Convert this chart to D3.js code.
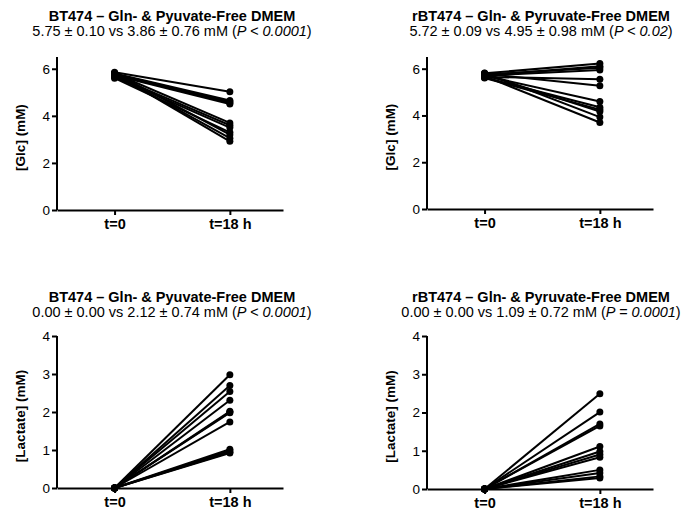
<!DOCTYPE html>
<html>
<head>
  <meta charset="utf-8">
  <title>Glucose and lactate, BT474 vs rBT474</title>
  <script src="https://d3js.org/d3.v7.min.js"></script>
  <style>
    body { margin: 0; background: #fff; }
    svg { font-family: "Liberation Sans", Arial, sans-serif; }
  </style>
</head>
<body>
  <svg id="chart" width="688" height="514"></svg>

  <script>
    // time points on the x axis
    let timeLabels = ["t=0", "t=18 h"];

    // glucose, BT474 (mM)
    let glcBT474_t0  = [5.85, 5.80, 5.78, 5.75, 5.72, 5.80, 5.70, 5.65, 5.60, 5.82, 5.75, 5.78];
    let glcBT474_t18 = [5.02, 4.65, 4.60, 4.55, 4.50, 3.70, 3.60, 3.50, 3.30, 3.20, 3.05, 2.92];

    // glucose, rBT474 (mM)
    let glcR_t0  = [5.80, 5.75, 5.70, 5.72, 5.65, 5.78, 5.70, 5.62, 5.60, 5.75, 5.82, 5.68];
    let glcR_t18 = [6.22, 6.04, 5.94, 6.10, 5.55, 5.27, 4.60, 4.35, 4.25, 4.17, 3.93, 3.70];

    // lactate, BT474 (mM)
    let lacBT474_t0  = [0, 0, 0, 0, 0, 0, 0, 0, 0, 0, 0, 0];
    let lacBT474_t18 = [2.98, 2.70, 2.54, 2.31, 2.02, 1.98, 2.00, 1.74, 1.02, 0.98, 0.94, 0.92];

    // lactate, rBT474 (mM)
    let lacR_t0  = [0, 0, 0, 0, 0, 0, 0, 0, 0, 0, 0, 0];
    let lacR_t18 = [2.49, 2.01, 1.70, 1.65, 1.11, 0.98, 0.90, 0.83, 0.50, 0.42, 0.33, 0.29];

    let glcTicks = [0, 2, 4, 6];
    let lacTicks = [0, 1, 2, 3, 4];

    let panels = [
      { t0: glcBT474_t0, t18: glcBT474_t18, ticks: glcTicks, ymax: 6.5,
        title: "BT474 \u2013 Gln- & Pyuvate-Free DMEM",
        stat: ["5.75 \u00b1 0.10 vs 3.86 \u00b1 0.76 mM (", "P < 0.0001", ")"],
        ylabel: "[Glc] (mM)",
        left: 57, right: 283, top: 57, bottom: 210, titleY: 20.5, cx: 172 },
      { t0: glcR_t0, t18: glcR_t18, ticks: glcTicks, ymax: 6.5,
        title: "rBT474 \u2013 Gln- & Pyruvate-Free DMEM",
        stat: ["5.72 \u00b1 0.09 vs 4.95 \u00b1 0.98 mM (", "P < 0.02", ")"],
        ylabel: "[Glc] (mM)",
        left: 427, right: 653, top: 57, bottom: 209, titleY: 20.5, cx: 541 },
      { t0: lacBT474_t0, t18: lacBT474_t18, ticks: lacTicks, ymax: 4,
        title: "BT474 \u2013 Gln- & Pyuvate-Free DMEM",
        stat: ["0.00 \u00b1 0.00 vs 2.12 \u00b1 0.74 mM (", "P < 0.0001", ")"],
        ylabel: "[Lactate] (mM)",
        left: 57, right: 283, top: 336, bottom: 488, titleY: 301.5, cx: 172 },
      { t0: lacR_t0, t18: lacR_t18, ticks: lacTicks, ymax: 4,
        title: "rBT474 \u2013 Gln- & Pyruvate-Free DMEM",
        stat: ["0.00 \u00b1 0.00 vs 1.09 \u00b1 0.72 mM (", "P = 0.0001", ")"],
        ylabel: "[Lactate] (mM)",
        left: 427, right: 653, top: 336, bottom: 489, titleY: 301.5, cx: 541 }
    ];

    let svg = d3.select("#chart");

    panels.forEach(function(p) {
      let g = svg.append("g");

      // x scale: two time points, placed a bit left of centre like the original
      let x = d3.scalePoint()
                .domain(timeLabels)
                .range([p.left, p.right])
                .padding(0.48)
                .align(0.52);

      let y = d3.scaleLinear()
                .domain([0, p.ymax])
                .range([p.bottom, p.top]);

      // titles
      g.append("text")
       .attr("x", p.cx).attr("y", p.titleY)
       .attr("text-anchor", "middle")
       .style("font-size", "14.5px")
       .style("font-weight", "bold")
       .text(p.title);

      let st = g.append("text")
                .attr("x", p.cx).attr("y", p.titleY + 15.5)
                .attr("text-anchor", "middle")
                .style("font-size", "14.5px");
      st.append("tspan").text(p.stat[0]);
      st.append("tspan").style("font-style", "italic").text(p.stat[1]);
      st.append("tspan").text(p.stat[2]);

      // y axis
      let yAxis = g.append("g")
                   .attr("transform", "translate(" + p.left + ",0)")
                   .call(d3.axisLeft(y).tickValues(p.ticks).tickFormat(d3.format("d"))
                           .tickSize(5).tickSizeOuter(0).tickPadding(2));
      yAxis.select(".domain")
           .attr("d", "M0," + p.bottom + "V" + p.top)
           .attr("stroke-width", 2);
      yAxis.selectAll(".tick line").attr("stroke-width", 2);
      yAxis.selectAll(".tick text")
           .style("font-size", "13.5px")
           .style("font-family", "'Liberation Sans', Arial, sans-serif")
           .attr("fill", "#000");

      // x axis
      let xAxis = g.append("g")
                   .attr("transform", "translate(0," + p.bottom + ")")
                   .call(d3.axisBottom(x).tickSize(5).tickSizeOuter(0).tickPadding(4));
      xAxis.select(".domain").attr("stroke-width", 2);
      xAxis.selectAll(".tick line").attr("stroke-width", 2);
      xAxis.selectAll(".tick text")
           .style("font-size", "14.5px")
           .style("font-weight", "bold")
           .style("font-family", "'Liberation Sans', Arial, sans-serif")
           .attr("fill", "#000");

      // y label
      g.append("text")
       .attr("transform", "translate(" + (p.left - 32) + "," + ((p.top + p.bottom) / 2 + 4) + ") rotate(-90)")
       .attr("text-anchor", "middle")
       .style("font-size", "13.5px")
       .style("font-weight", "bold")
       .text(p.ylabel);

      // paired lines
      let pairs = p.t0.map(function(v, i) { return [v, p.t18[i]]; });

      g.selectAll(".pair")
       .data(pairs)
       .enter()
       .append("line")
       .attr("x1", x(timeLabels[0]))
       .attr("x2", x(timeLabels[1]))
       .attr("y1", function(d) { return y(d[0]); })
       .attr("y2", function(d) { return y(d[1]); })
       .attr("stroke", "#000")
       .attr("stroke-width", 2);

      g.selectAll(".dot0")
       .data(p.t0)
       .enter()
       .append("circle")
       .attr("cx", x(timeLabels[0]))
       .attr("cy", function(d) { return y(d); })
       .attr("r", 3.5)
       .attr("fill", "#000");

      g.selectAll(".dot18")
       .data(p.t18)
       .enter()
       .append("circle")
       .attr("cx", x(timeLabels[1]))
       .attr("cy", function(d) { return y(d); })
       .attr("r", 3.5)
       .attr("fill", "#000");
    });
  </script>
</body>
</html>
